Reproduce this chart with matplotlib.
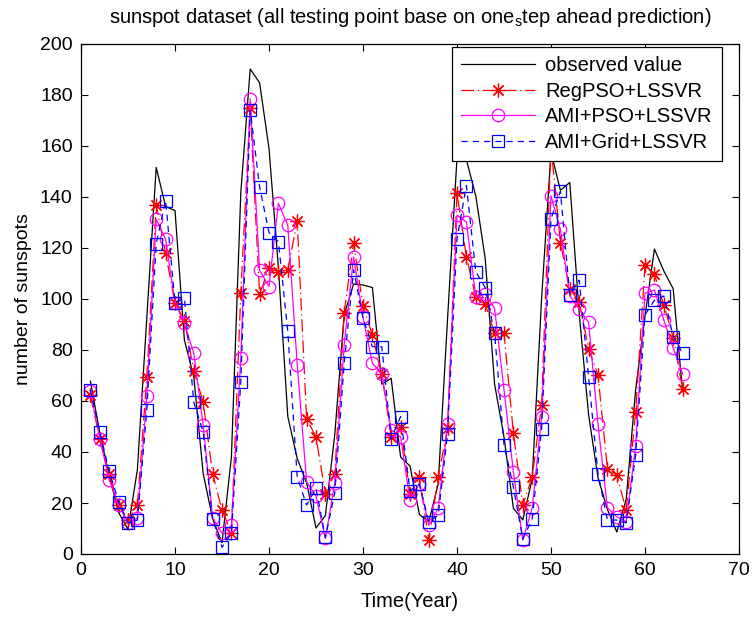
import matplotlib
matplotlib.use('Agg')
import matplotlib.pyplot as plt
import numpy as np

plt.rcParams['font.family'] = ['Liberation Sans', 'DejaVu Sans']
plt.rcParams['mathtext.fontset'] = 'custom'
plt.rcParams['mathtext.rm'] = 'Liberation Sans'

# testing years 1..64 (1940-2003)
years = np.arange(1, 65)

observed = [67.8, 47.5, 30.6, 16.3, 9.6, 33.2, 92.6, 151.6, 136.3, 134.7,
            83.9, 69.4, 31.5, 13.9, 4.4, 38.0, 141.7, 190.2, 184.8, 159.0,
            112.3, 53.9, 37.5, 27.9, 10.2, 15.1, 47.0, 93.8, 105.9, 105.5,
            104.5, 66.6, 68.9, 38.0, 34.5, 15.5, 12.6, 27.5, 92.5, 155.4,
            154.6, 140.4, 115.9, 66.6, 45.9, 17.9, 13.4, 29.4, 100.2, 157.6,
            142.6, 145.7, 94.3, 54.6, 29.9, 17.5, 8.6, 21.5, 64.3, 93.3,
            119.6, 111.0, 104.0, 63.7]

regpso = [62.2, 45.2, 31.5, 19.2, 13.3, 19.2, 69.3, 136.7, 117.9, 98.6,
          91.5, 71.9, 59.5, 31.5, 17.2, 8.3, 102.3, 175.0, 101.9, 112.0,
          110.7, 111.4, 130.6, 53.0, 45.9, 23.7, 31.5, 94.7, 121.8, 97.3,
          85.9, 70.6, 45.9, 49.8, 23.7, 30.2, 5.5, 30.2, 49.4, 141.5,
          116.5, 100.8, 98.2, 86.5, 86.5, 47.4, 19.2, 30.2, 58.5, 160.0,
          122.1, 103.8, 99.0, 80.4, 70.2, 33.5, 30.9, 17.2, 55.6, 113.4,
          109.7, 97.6, 84.9, 64.8]

ami_pso = [64.0, 45.2, 29.2, 19.2, 12.2, 14.0, 61.8, 131.2, 123.4, 98.6,
           90.4, 78.7, 50.4, 14.3, 8.1, 11.3, 76.8, 178.5, 111.3, 104.9,
           137.5, 128.9, 74.3, 28.3, 22.7, 6.1, 27.9, 82.1, 116.5, 92.8,
           74.8, 70.6, 48.7, 45.9, 21.1, 27.6, 11.3, 17.9, 50.8, 132.9,
           130.2, 100.8, 101.9, 96.4, 64.4, 32.2, 5.5, 18.1, 53.7, 140.5,
           127.3, 101.2, 96.0, 90.8, 50.8, 18.2, 14.6, 12.6, 42.2, 102.3,
           103.5, 91.7, 80.8, 70.6]

ami_grid = [64.4, 47.8, 32.4, 20.5, 12.2, 13.3, 56.3, 121.7, 138.6, 98.6,
            100.3, 59.5, 47.8, 13.7, 2.6, 8.1, 67.4, 174.0, 144.0, 126.0,
            122.5, 87.3, 30.2, 19.2, 25.7, 6.5, 24.1, 74.8, 111.4, 92.5,
            81.3, 81.3, 45.2, 53.9, 24.8, 27.4, 12.6, 15.2, 47.2, 123.5,
            144.5, 110.7, 104.5, 86.5, 42.9, 26.3, 5.9, 13.7, 49.1, 131.5,
            142.2, 101.6, 107.4, 69.3, 31.5, 13.3, 13.3, 12.2, 38.7, 93.8,
            99.5, 101.2, 85.2, 78.7]

fig = plt.figure(figsize=(7.52, 6.17), dpi=100)
ax = fig.add_axes([81 / 752, 1 - 554 / 617, 658 / 752, 510 / 617])

ax.plot(years, observed, color='black', lw=0.9, label='observed value')
ax.plot(years, regpso, color='red', lw=0.9, linestyle=(0, (10, 3, 1, 3)),
        marker=(8, 2, 0), markersize=10, markeredgewidth=0.9, label='RegPSO+LSSVR')
ax.plot(years, ami_pso, color='magenta', lw=0.9, linestyle='-',
        marker='o', markersize=9, markerfacecolor='none', markeredgewidth=0.9,
        label='AMI+PSO+LSSVR')
ax.plot(years, ami_grid, color='blue', lw=0.9, linestyle=(0, (5, 4)),
        marker='s', markersize=9, markerfacecolor='none', markeredgewidth=0.9,
        label='AMI+Grid+LSSVR')

ax.set_xlim(0, 70)
ax.set_ylim(0, 200)
ax.set_xticks(np.arange(0, 71, 10))
ax.set_yticks(np.arange(0, 201, 20))
ax.tick_params(direction='in', top=True, right=True, labelsize=14, length=5, pad=6)
for s in ax.spines.values():
    s.set_linewidth(0.9)

ax.set_xlabel('Time(Year)', fontsize=14.5, labelpad=9)
ax.set_ylabel('number of sunspots', fontsize=14, labelpad=6)
ax.set_title(r'sunspot dataset (all testing point base on one$_\mathregular{s}$tep ahead prediction)',
             fontsize=14.5, pad=15)

leg = ax.legend(loc='upper right', bbox_to_anchor=((722 - 81) / 658, (554 - 47) / 510),
                fontsize=14.5, frameon=True, fancybox=False,
                edgecolor='black', framealpha=1, borderpad=0.45, labelspacing=0.33,
                handlelength=3.7, handletextpad=0.5, borderaxespad=0)
leg.get_frame().set_linewidth(0.9)

fig.savefig('out.png', dpi=100)
